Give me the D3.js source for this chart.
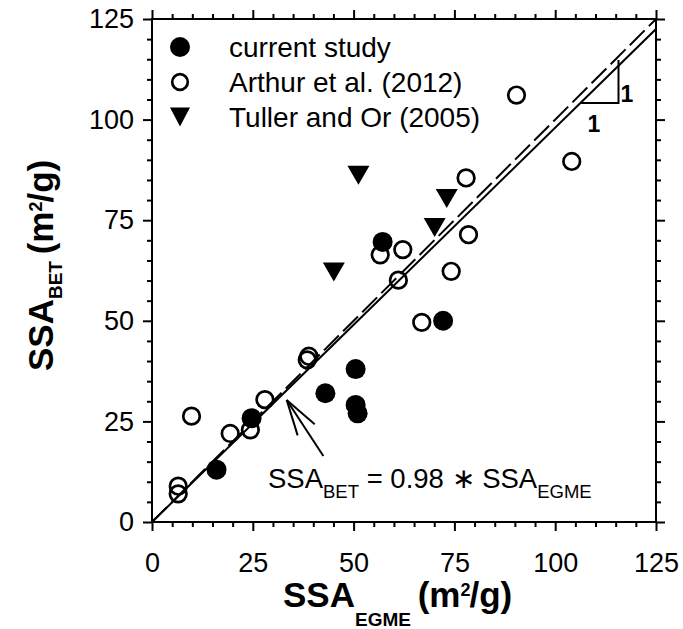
<!DOCTYPE html>
<html>
<head>
<meta charset="utf-8">
<script src="https://cdn.jsdelivr.net/npm/d3@7"></script>
<style>
  body { margin: 0; background: #fff; }
  svg text { font-family: "Liberation Sans", Arial, sans-serif; fill: #000; }
</style>
</head>
<body>
<div id="chart"></div>
<script>
//// data
const currentX = [16, 24.7, 43, 50.5, 51, 50.5, 57.2, 72.2];
const currentY = [13, 25.8, 32, 29.1, 27, 38, 69.6, 50];

const arthurX = [6.5, 6.5, 9.8, 19.4, 24.4, 28, 38.5, 38.9, 56.6, 61.1, 62.2, 66.9, 74.2, 77.9, 78.5, 90.4, 104.1];
const arthurY = [8.9, 7.0, 26.3, 22.0, 22.9, 30.4, 40.3, 41.2, 66.4, 60.1, 67.7, 49.6, 62.3, 85.5, 71.4, 106.1, 89.6];

const tullerX = [45.1, 51.2, 70.1, 73.1];
const tullerY = [62.1, 86.2, 73.2, 80.4];

const majorTicks = [0, 25, 50, 75, 100, 125];
const fitSlope = 0.98;
const legendLabels = ['current study', 'Arthur et al. (2012)', 'Tuller and Or (2005)'];

const W = 683, H = 629;
const pLeft = 152, pRight = 656, pTop = 19, pBottom = 522;

const svg = d3.select('#chart').append('svg')
	.attr('width', W)
	.attr('height', H);

const x = d3.scaleLinear().domain([0, 125]).range([pLeft, pRight]);
const y = d3.scaleLinear().domain([0, 125]).range([pBottom, pTop]);

const minorTicks = d3.range(0, 126, 5).filter(v => majorTicks.indexOf(v) < 0);

//// ticks on all four sides, pointing out
const sides = [
	{ fn: d3.axisBottom, scale: x, tr: `translate(0,${pBottom})`, labels: true },
	{ fn: d3.axisTop, scale: x, tr: `translate(0,${pTop})`, labels: false },
	{ fn: d3.axisLeft, scale: y, tr: `translate(${pLeft},0)`, labels: true },
	{ fn: d3.axisRight, scale: y, tr: `translate(${pRight},0)`, labels: false }
];

sides.forEach(s => {
	const gMinor = svg.append('g').attr('transform', s.tr)
		.call(s.fn(s.scale).tickValues(minorTicks).tickSize(5).tickFormat(''));
	const gMajor = svg.append('g').attr('transform', s.tr)
		.call(s.fn(s.scale).tickValues(majorTicks).tickSize(9).tickPadding(9)
			.tickFormat(s.labels ? d3.format('d') : ''));
	[gMinor, gMajor].forEach(g => {
		g.select('.domain').remove();
		g.selectAll('line').attr('stroke', '#000').attr('stroke-width', 2);
		g.selectAll('text').style('font-size', '27px').attr('fill', '#000');
	});
	if (s.fn === d3.axisBottom) {
		gMajor.selectAll('text').attr('dy', null).attr('y', 50);
	}
});

//// frame
svg.append('rect')
	.attr('x', pLeft).attr('y', pTop)
	.attr('width', pRight - pLeft).attr('height', pBottom - pTop)
	.attr('fill', 'none').attr('stroke', '#000').attr('stroke-width', 2);

svg.append('clipPath').attr('id', 'clip')
	.append('rect').attr('x', pLeft).attr('y', pTop)
	.attr('width', pRight - pLeft).attr('height', pBottom - pTop);

const lines = svg.append('g').attr('clip-path', 'url(#clip)');
const line = d3.line().x(d => x(d[0])).y(d => y(d[1]));

//// 1:1 line (dashed) and fit line (solid)
lines.append('path')
	.attr('d', line([[0, 0], [125, 125]]))
	.attr('fill', 'none').attr('stroke', '#000').attr('stroke-width', 2)
	.attr('stroke-dasharray', '21,6');
lines.append('path')
	.attr('d', line([[0, 0], [125, 125 * fitSlope]]))
	.attr('fill', 'none').attr('stroke', '#000').attr('stroke-width', 2);

//// slope triangle
const tri = [[106.2, 104.1], [115.7, 104.1], [115.7, 114.8]];
lines.append('path')
	.attr('d', line(tri))
	.attr('fill', 'none').attr('stroke', '#000').attr('stroke-width', 2);
svg.append('text').attr('x', 627).attr('y', 101.5)
	.attr('text-anchor', 'middle').style('font-size', '23px').style('font-weight', 'bold').text('1');
svg.append('text').attr('x', 594).attr('y', 131.5)
	.attr('text-anchor', 'middle').style('font-size', '23px').style('font-weight', 'bold').text('1');

//// markers
const plot = svg.append('g');
const trianglePath = 'M-11,-9.5L11,-9.5L0,9.5Z';

plot.selectAll('circle.arthur')
	.data(arthurX.map((v, i) => [v, arthurY[i]]))
	.enter().append('circle')
	.attr('class', 'arthur')
	.attr('cx', d => x(d[0])).attr('cy', d => y(d[1]))
	.attr('r', 8.3)
	.attr('fill', 'none').attr('stroke', '#000').attr('stroke-width', 2.7);

plot.selectAll('circle.current')
	.data(currentX.map((v, i) => [v, currentY[i]]))
	.enter().append('circle')
	.attr('class', 'current')
	.attr('cx', d => x(d[0])).attr('cy', d => y(d[1]))
	.attr('r', 10)
	.attr('fill', '#000');

plot.selectAll('path.tuller')
	.data(tullerX.map((v, i) => [v, tullerY[i]]))
	.enter().append('path')
	.attr('class', 'tuller')
	.attr('d', trianglePath)
	.attr('transform', d => `translate(${x(d[0])},${y(d[1])})`)
	.attr('fill', '#000');

//// arrow to the fit line
const tip = [x(33.4), y(30.3)], tail = [x(42.5), y(16.4)];
const ang = Math.atan2(tail[1] - tip[1], tail[0] - tip[0]);
const headLen = 37, headAng = 16 * Math.PI / 180;
const arrow = svg.append('g').attr('stroke', '#000').attr('stroke-width', 2).attr('fill', 'none');
arrow.append('line').attr('x1', tail[0]).attr('y1', tail[1]).attr('x2', tip[0]).attr('y2', tip[1]);
[-1, 1].forEach(sgn => {
	arrow.append('line')
		.attr('x1', tip[0]).attr('y1', tip[1])
		.attr('x2', tip[0] + headLen * Math.cos(ang + sgn * headAng))
		.attr('y2', tip[1] + headLen * Math.sin(ang + sgn * headAng));
});

//// equation
const eq = svg.append('text').attr('x', 268).attr('y', 488).style('font-size', '27.5px');
eq.append('tspan').text('SSA');
eq.append('tspan').attr('dy', 10).style('font-size', '18.5px').text('BET');
eq.append('tspan').attr('dy', -10).text(' = 0.98 \u2217 SSA');
eq.append('tspan').attr('dy', 10).style('font-size', '18.5px').text('EGME');

//// legend
const legY = [47, 82, 117];
svg.append('circle').attr('cx', 180).attr('cy', legY[0]).attr('r', 10).attr('fill', '#000');
svg.append('circle').attr('cx', 180).attr('cy', legY[1]).attr('r', 7.8)
	.attr('fill', 'none').attr('stroke', '#000').attr('stroke-width', 2.7);
svg.append('path').attr('d', 'M-10,-9.5L10,-9.5L0,9.5Z')
	.attr('transform', `translate(180,${legY[2]})`).attr('fill', '#000');
legendLabels.forEach((t, i) => {
	svg.append('text').attr('x', 229).attr('y', legY[i] + 10)
		.style('font-size', '28px').text(t);
});

//// axis titles
const xt = svg.append('text').attr('x', 283).attr('y', 607)
	.style('font-size', '35px').style('font-weight', 'bold');
xt.append('tspan').text('SSA');
xt.append('tspan').attr('dy', 19).style('font-size', '19px').text('EGME');
xt.append('tspan').attr('dy', -19).attr('dx', -3).text(' (m');
xt.append('tspan').attr('dy', -11).style('font-size', '18px').text('2');
xt.append('tspan').attr('dy', 11).attr('dx', -1).text('/g)');

const yt = svg.append('text').attr('transform', 'translate(53,371) rotate(-90)')
	.style('font-size', '35px').style('font-weight', 'bold');
yt.append('tspan').text('SSA');
yt.append('tspan').attr('dy', 9).style('font-size', '19px').text('BET');
yt.append('tspan').attr('dy', -9).attr('dx', -3).text(' (m');
yt.append('tspan').attr('dy', -11).style('font-size', '18px').text('2');
yt.append('tspan').attr('dy', 11).attr('dx', -1).text('/g)');
</script>
</body>
</html>
